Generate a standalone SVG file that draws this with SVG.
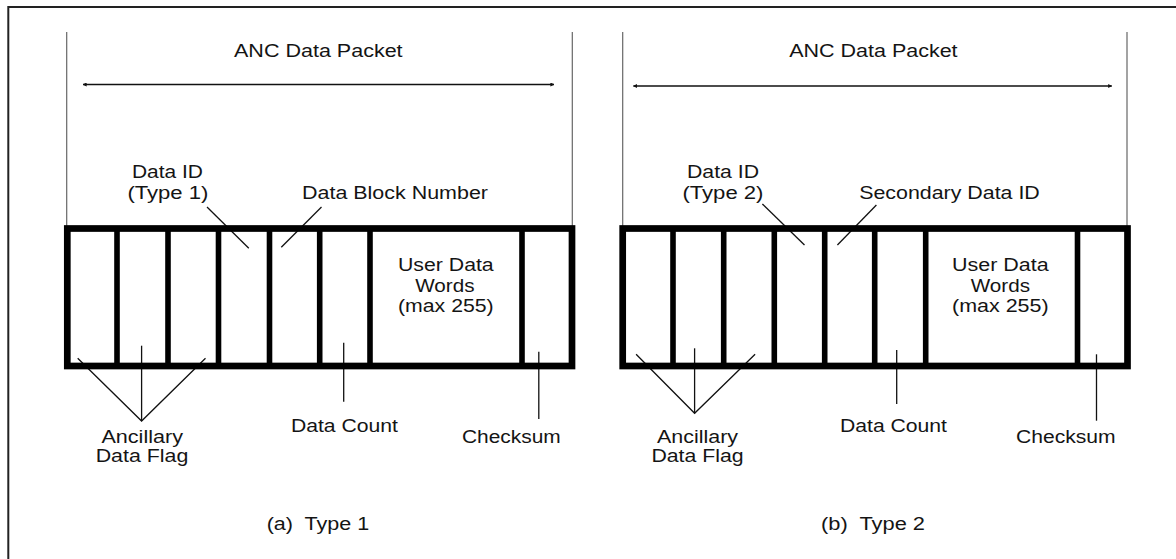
<svg xmlns="http://www.w3.org/2000/svg" width="1176" height="559" viewBox="0 0 1176 559">
<style>
.bg{fill:#fff}
.frame{stroke:#222;stroke-width:2;fill:none}
.ext{stroke:#666;stroke-width:1.2;fill:none}
.dim{stroke:#111;stroke-width:1.4;fill:none}
.box{stroke:#000;stroke-width:6.7;fill:none}
.div{stroke:#000;stroke-width:5.6;fill:none}
.lead{stroke:#111;stroke-width:1.3;fill:none}
text{font-family:"Liberation Sans",Arial,sans-serif;font-size:17.5px;fill:#141414}
</style>
<defs>
<marker id="ah" viewBox="0 0 10 10" refX="9" refY="5" markerWidth="4" markerHeight="4" markerUnits="userSpaceOnUse" orient="auto-start-reverse">
<path d="M0,0 L10,5 L0,10 z" fill="#111"/>
</marker>
</defs>
<rect class="bg" x="0" y="0" width="1176" height="559"/>
<g id="frame">
<path class="frame" d="M8.3,559 V7 H1176"/>
</g>

<g id="connectors">
<line class="ext" x1="66.7" y1="32" x2="66.7" y2="226"/>
<line class="ext" x1="572.3" y1="32" x2="572.3" y2="226"/>
<line class="dim" x1="83" y1="84.5" x2="554" y2="84.5" marker-start="url(#ah)" marker-end="url(#ah)"/>
<line class="lead" x1="207" y1="207" x2="248.8" y2="248.3"/>
<line class="lead" x1="321.5" y1="207" x2="281.3" y2="247.3"/>
<polyline class="lead" points="77.7,358.3 141.6,421 205.5,358.3"/>
<line class="lead" x1="141.6" y1="345.7" x2="141.6" y2="421"/>
<line class="lead" x1="343.7" y1="342.7" x2="343.7" y2="401.7"/>
<line class="lead" x1="538.8" y1="351.7" x2="538.8" y2="419"/>

<line class="ext" x1="622.7" y1="32" x2="622.7" y2="226"/>
<line class="ext" x1="1127" y1="32" x2="1127" y2="226"/>
<line class="dim" x1="633.4" y1="86" x2="1111.8" y2="86" marker-start="url(#ah)" marker-end="url(#ah)"/>
<line class="lead" x1="762.4" y1="204" x2="804.5" y2="245"/>
<line class="lead" x1="876.4" y1="205" x2="837.4" y2="245"/>
<polyline class="lead" points="636.1,354.3 694.6,413.3 755.1,354.3"/>
<line class="lead" x1="694.6" y1="348.3" x2="694.6" y2="413.3"/>
<line class="lead" x1="896.7" y1="350" x2="896.7" y2="404"/>
<line class="lead" x1="1096.5" y1="354.3" x2="1096.5" y2="420.7"/>
</g>

<g id="packet-a">
<rect class="box" x="67.3" y="228.5" width="504.7" height="137.5"/>
<path class="div" d="M117,228.5V366 M168,228.5V366 M218.5,228.5V366 M269.5,228.5V366 M319.7,228.5V366 M370,228.5V366 M522,228.5V366"/>
</g>
<g id="packet-b">
<rect class="box" x="622.7" y="228.5" width="504.8" height="137.5"/>
<path class="div" d="M673,228.5V366 M723.7,228.5V366 M774.3,228.5V366 M824.7,228.5V366 M874.7,228.5V366 M925.7,228.5V366 M1077.5,228.5V366"/>
</g>

<g id="labels-a">
<text x="234" y="57.3" textLength="168.6" lengthAdjust="spacingAndGlyphs">ANC Data Packet</text>
<text x="132" y="177.5" textLength="71" lengthAdjust="spacingAndGlyphs">Data ID</text>
<text x="127.4" y="199" textLength="81" lengthAdjust="spacingAndGlyphs">(Type 1)</text>
<text x="302" y="198.5" textLength="186" lengthAdjust="spacingAndGlyphs">Data Block Number</text>
<text x="398" y="271" textLength="95.7" lengthAdjust="spacingAndGlyphs">User Data</text>
<text x="415.2" y="291.7" textLength="59.3" lengthAdjust="spacingAndGlyphs">Words</text>
<text x="398" y="311.7" textLength="95.7" lengthAdjust="spacingAndGlyphs">(max 255)</text>
<text x="101.4" y="443.3" textLength="81.6" lengthAdjust="spacingAndGlyphs">Ancillary</text>
<text x="95.7" y="461.7" textLength="92.6" lengthAdjust="spacingAndGlyphs">Data Flag</text>
<text x="290.9" y="431.7" textLength="107" lengthAdjust="spacingAndGlyphs">Data Count</text>
<text x="462" y="442.7" textLength="98.7" lengthAdjust="spacingAndGlyphs">Checksum</text>
<text x="266.7" y="530" textLength="102.6" lengthAdjust="spacingAndGlyphs" xml:space="preserve">(a)  Type 1</text>
</g>
<g id="labels-b">
<text x="789.2" y="57.3" textLength="168.4" lengthAdjust="spacingAndGlyphs">ANC Data Packet</text>
<text x="687" y="177.5" textLength="72" lengthAdjust="spacingAndGlyphs">Data ID</text>
<text x="682.4" y="199" textLength="81.1" lengthAdjust="spacingAndGlyphs">(Type 2)</text>
<text x="859.2" y="198.5" textLength="180.6" lengthAdjust="spacingAndGlyphs">Secondary Data ID</text>
<text x="952" y="271" textLength="96.6" lengthAdjust="spacingAndGlyphs">User Data</text>
<text x="970.7" y="291.7" textLength="59.3" lengthAdjust="spacingAndGlyphs">Words</text>
<text x="952" y="311.7" textLength="96.6" lengthAdjust="spacingAndGlyphs">(max 255)</text>
<text x="657" y="443.3" textLength="81" lengthAdjust="spacingAndGlyphs">Ancillary</text>
<text x="651.4" y="461.7" textLength="92.2" lengthAdjust="spacingAndGlyphs">Data Flag</text>
<text x="840" y="431.7" textLength="107" lengthAdjust="spacingAndGlyphs">Data Count</text>
<text x="1016" y="442.7" textLength="99.6" lengthAdjust="spacingAndGlyphs">Checksum</text>
<text x="821" y="530" textLength="104" lengthAdjust="spacingAndGlyphs" xml:space="preserve">(b)  Type 2</text>
</g>
</svg>
